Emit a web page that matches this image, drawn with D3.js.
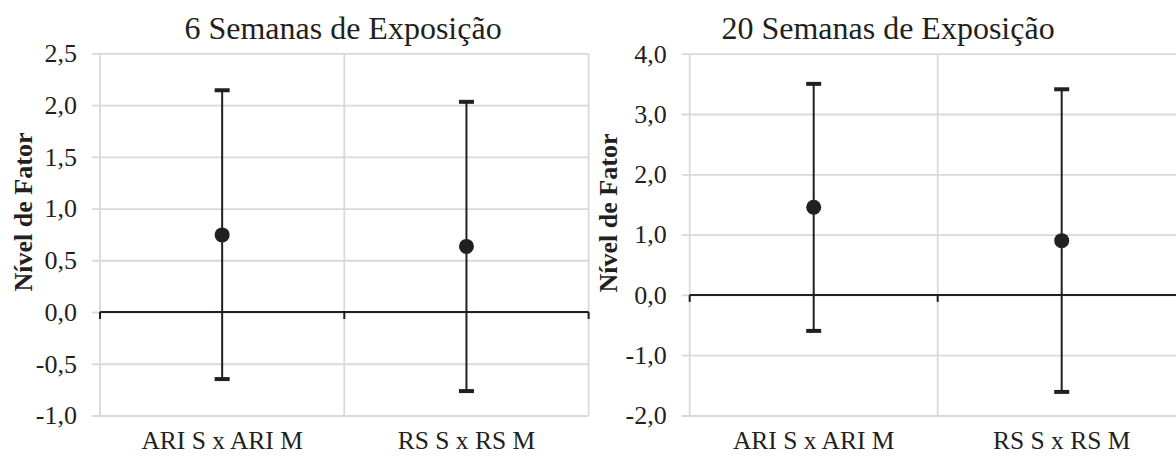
<!DOCTYPE html>
<html>
<head>
<meta charset="utf-8">
<script src="https://cdn.jsdelivr.net/npm/d3@7"></script>
<style>
  body { margin: 0; background: #fff; }
  svg { display: block; }
  svg text { font-family: "Liberation Serif", "Times New Roman", Tinos, "DejaVu Serif", serif !important; fill: #231f20; }
</style>
</head>
<body>
<div id="chart"></div>
<script>
// categorias e valores (média e intervalo)
const categories = ['ARI S x ARI M', 'RS S x RS M'];

const means6 = [0.745, 0.634];
const lower6 = [-0.648, -0.764];
const upper6 = [2.143, 2.031];
const ticks6 = [-1.0, -0.5, 0.0, 0.5, 1.0, 1.5, 2.0, 2.5];

const means20 = [1.454, 0.90];
const lower20 = [-0.597, -1.609];
const upper20 = [3.50, 3.41];
const ticks20 = [-2, -1, 0, 1, 2, 3, 4];

const titles = ['6 Semanas de Exposição', '20 Semanas de Exposição'];
const yTitle = 'Nível de Fator';

const width = 1176, height = 456;
// vírgula decimal, hífen simples como sinal
const fmt = d => (Math.abs(d) < 1e-9 ? 0 : d).toFixed(1).replace('.', ',');

const svg = d3.select('#chart').append('svg')
    .attr('width', width)
    .attr('height', height);

// layout de cada painel
const panels = [
    { left: 100, right: 588.6, top: 53.3, bottom: 415.5, titleX: 343, yTitleX: 32, yTitleY: 212,
      means: means6, lower: lower6, upper: upper6, ticks: ticks6, title: titles[0] },
    { left: 689.7, right: 1185.7, top: 53.7, bottom: 415.5, titleX: 888, yTitleX: 617, yTitleY: 213,
      means: means20, lower: lower20, upper: upper20, ticks: ticks20, title: titles[1] }
];

const gridColor = '#d9d9d9';
const inkColor = '#231f20';

panels.forEach(p => {
    const g = svg.append('g');

    const x = d3.scaleBand()
        .domain(categories)
        .range([p.left, p.right]);

    const y = d3.scaleLinear()
        .domain(d3.extent(p.ticks))
        .range([p.bottom, p.top]);

    // linhas de grade horizontais + rótulos
    const yAxis = d3.axisLeft(y)
        .tickValues(p.ticks)
        .tickFormat(fmt)
        .tickSize(-(p.right - p.left) - 8)
        .tickPadding(15);

    const yAxisG = g.append('g')
        .attr('transform', `translate(${p.left - 8},0)`)
        .call(yAxis)
        .attr('font-family', null)
        .attr('font-size', 26);
    yAxisG.select('.domain').remove();
    yAxisG.selectAll('.tick line')
        .attr('stroke', gridColor)
        .attr('stroke-width', 1.8);
    yAxisG.selectAll('.tick text')
        .attr('fill', inkColor);

    // linhas de grade verticais
    const vlines = [p.left, ...categories.map(c => x(c) + x.bandwidth())];
    g.selectAll('.vgrid')
        .data(vlines)
        .enter()
        .append('line')
        .attr('class', 'vgrid')
        .attr('x1', d => d).attr('x2', d => d)
        .attr('y1', p.top).attr('y2', p.bottom)
        .attr('stroke', gridColor)
        .attr('stroke-width', 1.8);

    // eixo no zero
    g.append('line')
        .attr('x1', p.left).attr('x2', p.right)
        .attr('y1', y(0)).attr('y2', y(0))
        .attr('stroke', inkColor)
        .attr('stroke-width', 2);
    g.selectAll('.ztick')
        .data(vlines)
        .enter()
        .append('line')
        .attr('x1', d => d).attr('x2', d => d)
        .attr('y1', y(0)).attr('y2', y(0) + 7)
        .attr('stroke', inkColor)
        .attr('stroke-width', 2);

    // rótulos das categorias
    g.selectAll('.xlabel')
        .data(categories)
        .enter()
        .append('text')
        .attr('x', d => x(d) + x.bandwidth() / 2)
        .attr('y', 449)
        .attr('text-anchor', 'middle')
        .attr('font-size', 25.5)
        .text(d => d);

    // barras de erro
    const rows = categories.map((c, i) => ({ cat: c, mean: p.means[i], lo: p.lower[i], hi: p.upper[i] }));
    const cx = d => x(d.cat) + x.bandwidth() / 2;

    g.selectAll('.err')
        .data(rows)
        .enter()
        .append('line')
        .attr('x1', cx).attr('x2', cx)
        .attr('y1', d => y(d.lo)).attr('y2', d => y(d.hi))
        .attr('stroke', inkColor)
        .attr('stroke-width', 2);

    ['lo', 'hi'].forEach(k => {
        g.selectAll('.cap-' + k)
            .data(rows)
            .enter()
            .append('line')
            .attr('x1', d => cx(d) - 7.5).attr('x2', d => cx(d) + 7.5)
            .attr('y1', d => y(d[k])).attr('y2', d => y(d[k]))
            .attr('stroke', inkColor)
            .attr('stroke-width', 4);
    });

    g.selectAll('.dot')
        .data(rows)
        .enter()
        .append('circle')
        .attr('cx', cx)
        .attr('cy', d => y(d.mean))
        .attr('r', 7.5)
        .attr('fill', inkColor);

    // títulos
    g.append('text')
        .attr('x', p.titleX)
        .attr('y', 39)
        .attr('text-anchor', 'middle')
        .attr('font-size', 32)
        .text(p.title);

    g.append('text')
        .attr('transform', `translate(${p.yTitleX},${p.yTitleY}) rotate(-90)`)
        .attr('text-anchor', 'middle')
        .attr('font-size', 26)
        .attr('font-weight', 'bold')
        .text(yTitle);
});
</script>
</body>
</html>
